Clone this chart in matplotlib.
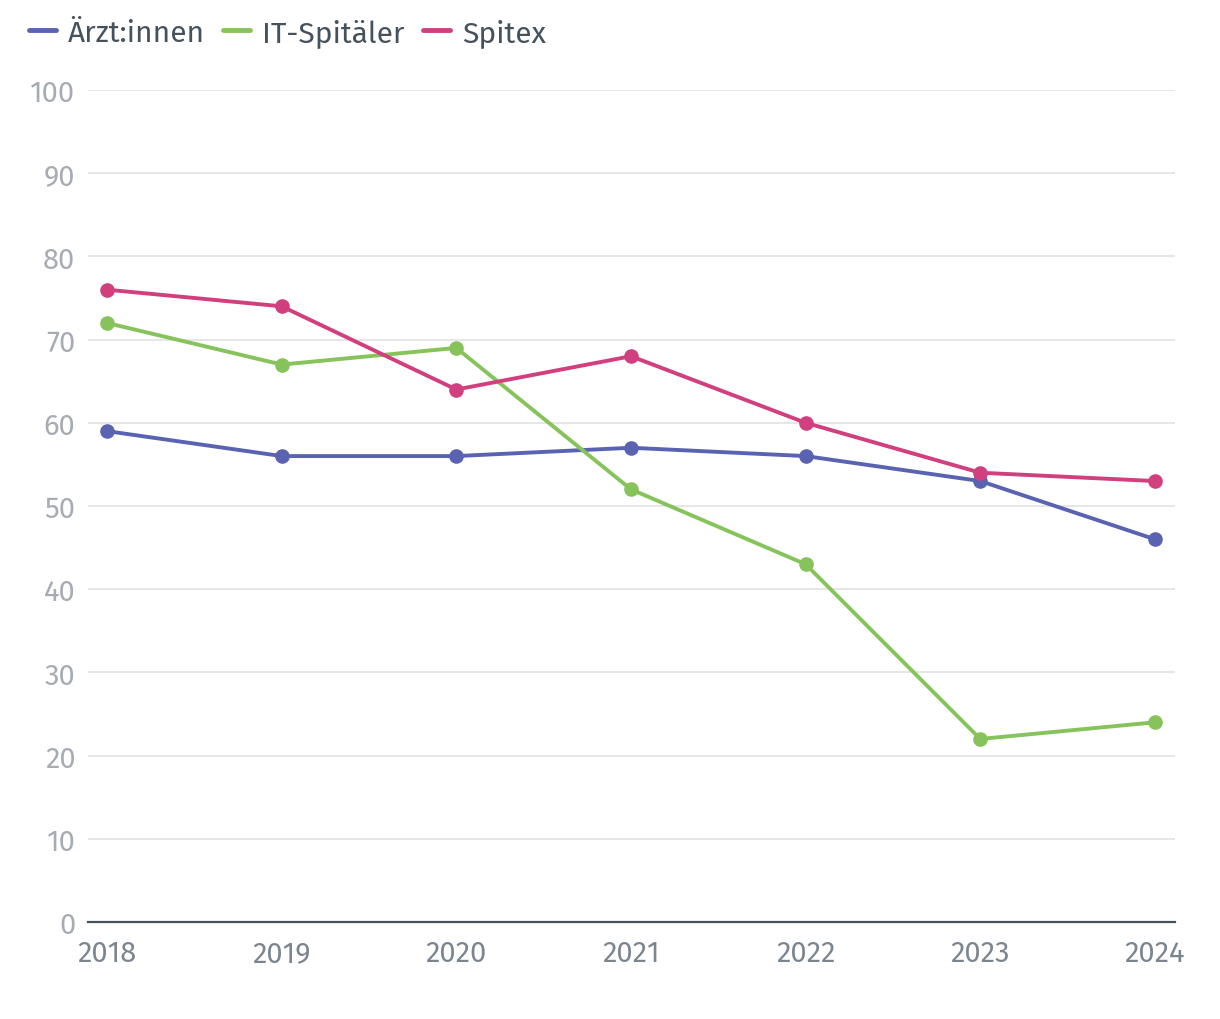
import matplotlib.pyplot as plt

years = [2018, 2019, 2020, 2021, 2022, 2023, 2024]
aerzte = [59, 56, 56, 57, 56, 53, 46]
it_spitaeler = [72, 67, 69, 52, 43, 22, 24]
spitex = [76, 74, 64, 68, 60, 54, 53]

series = [
    ('Ärzt:innen', aerzte, '#5a63b1'),
    ('IT-Spitäler', it_spitaeler, '#86c35a'),
    ('Spitex', spitex, '#d13f7f'),
]

plt.rcParams['font.family'] = ['Fira Sans', 'Open Sans', 'DejaVu Sans']

fig = plt.figure(figsize=(12.2, 10.2), dpi=100)
ax = fig.add_axes([88 / 1220, 97 / 1020, (1175 - 88) / 1220, (922 - 90) / 1020])

for name, vals, color in series:
    ax.plot(years, vals, color=color, lw=2.8, marker='o', ms=9.5, label=name,
            solid_capstyle='round', zorder=3)

ax.set_ylim(0, 100)
ax.set_xlim(2018 - 0.109, 2024 + 0.115)
ax.set_yticks(range(0, 101, 10))
ax.set_xticks(years)
ax.set_xticklabels([str(y) for y in years])

ax.grid(axis='y', color='#e4e4e4', lw=1.3)
ax.set_axisbelow(True)
for s in ['top', 'right', 'left']:
    ax.spines[s].set_visible(False)
ax.spines['bottom'].set_color('#45525e')
ax.spines['bottom'].set_linewidth(1.6)
ax.spines['bottom'].set_zorder(4)

ax.tick_params(axis='y', length=0, pad=9, labelsize=21, labelcolor='#a7acb2')
ax.tick_params(axis='x', length=0, pad=12, labelsize=21, labelcolor='#7b8590')

leg = fig.legend(loc='upper left', bbox_to_anchor=(17 / 1220, 1 - 7 / 1020), ncol=3,
                 frameon=False, fontsize=21.5, handlelength=0.9, handletextpad=0.4,
                 columnspacing=0.62, borderaxespad=0)
for line in leg.get_lines():
    line.set_marker('')
    line.set_linewidth(3.5)
for t in leg.get_texts():
    t.set_color('#45525e')

fig.savefig('out.png', dpi=100)
plt.close()
